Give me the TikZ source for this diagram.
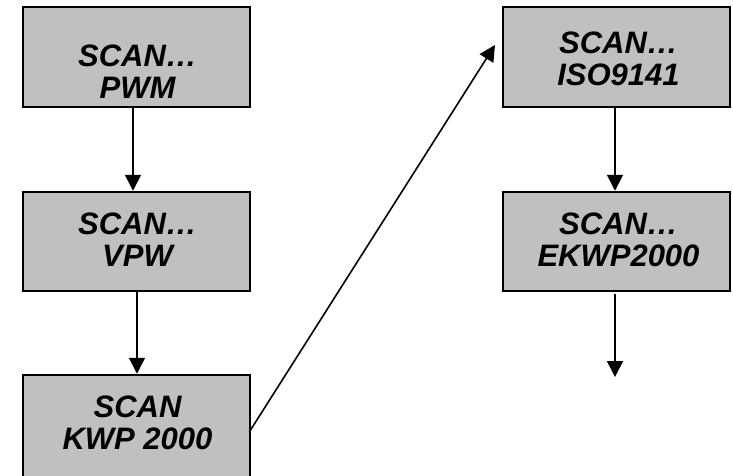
\documentclass[tikz,border=0pt]{standalone}
\usepackage{fontspec}
\setmainfont{Liberation Sans}
\usetikzlibrary{arrows.meta}
\definecolor{boxgray}{RGB}{192,192,192}
\tikzset{
  box/.style={draw=black, fill=boxgray, line width=2.5pt, rectangle, inner sep=0pt, minimum width=227pt},
  lbl/.style={inner sep=0pt, align=center, font=\fontsize{31}{32}\selectfont\bfseries\itshape},
  arr/.style={line width=1.6pt, -{Triangle[width=16pt,length=16pt]}}
}
\begin{document}
\begin{tikzpicture}[x=1pt,y=-1pt]
\useasboundingbox (0,0) rectangle (733,475);
\clip (0,0) rectangle (733,475);
% boxes
\node[box, minimum height=100pt] (b1) at (136.5,57) {};
\node[box, minimum height=99pt] (b2) at (136.5,241.5) {};
\node[box, minimum height=125pt] (b3) at (136.5,437.5) {};
\node[box, minimum height=100pt] (b4) at (616.5,57) {};
\node[box, minimum height=99pt] (b5) at (616.5,241.5) {};
% labels
\node[lbl] (t1) at (137.5,71.5) {SCAN…\\PWM};
\node[lbl] (t2) at (137.5,240) {SCAN…\\VPW};
\node[lbl] (t3) at (137.5,422.5) {SCAN\\KWP 2000};
\node[lbl] (t4) at (618.5,58.5) {SCAN…\\ISO9141};
\node[lbl] (t5) at (618.5,240) {SCAN…\\EKWP2000};
% free ends
\coordinate (diagend) at (495,45);
\coordinate (downend) at (615,377);
% connectors
\draw[arr] ([xshift=-3.5pt]b1.south) -- ([xshift=-3.5pt]b2.north);
\draw[arr] ([xshift=0.5pt]b2.south) -- ([xshift=0.5pt]b3.north);
\draw[arr] ([yshift=5.5pt,xshift=-2pt]b3.east) -- (diagend);
\draw[arr] ([xshift=-1.5pt]b4.south) -- ([xshift=-1.5pt]b5.north);
\draw[arr] ([xshift=-1.5pt,yshift=-2pt]b5.south) -- (downend);
\end{tikzpicture}
\end{document}
